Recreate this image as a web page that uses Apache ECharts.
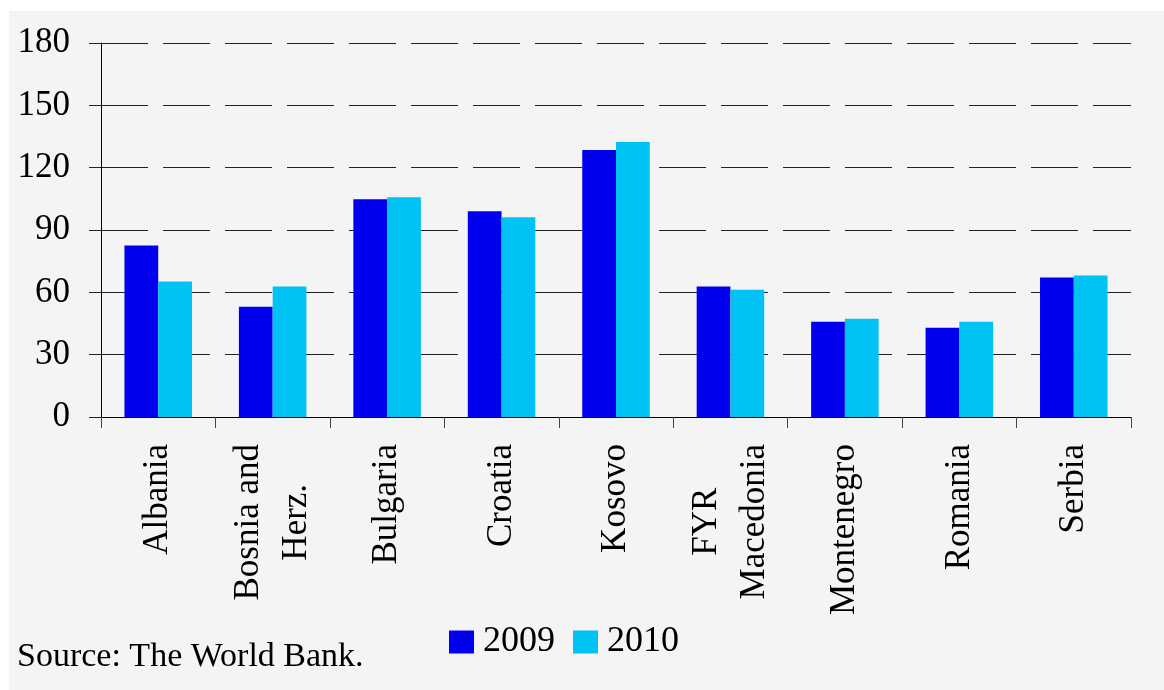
<!DOCTYPE html>
<html>
<head>
<meta charset="utf-8">
<script src="https://cdn.jsdelivr.net/npm/echarts@6/dist/echarts.min.js"></script>
<style>
  html, body { margin: 0; padding: 0; background: #fff; }
  #bg { position: absolute; left: 9px; top: 11px; right: 0; bottom: 0; background: #f4f4f4; }
  #main { position: absolute; left: 0; top: 0; width: 1164px; height: 690px; }
</style>
</head>
<body>
<div id="bg"></div>
<div id="main"></div>
<script>
var countries = ['Albania', 'Bosnia and\nHerz.', 'Bulgaria', 'Croatia', 'Kosovo',
  'FYR\nMacedonia', 'Montenegro', 'Romania', 'Serbia'];
var years = ['2009', '2010'];
var values2009 = [82.6, 53.1, 104.8, 99.0, 128.5, 62.8, 45.9, 43.0, 67.1];
var values2010 = [65.2, 62.8, 105.8, 96.1, 132.3, 61.3, 47.3, 45.9, 68.1];
var yTicks = { min: 0, max: 180, interval: 30 };
var sourceNote = 'Source: The World Bank.';

var font = 'Liberation Serif';

var chart = echarts.init(document.getElementById('main'), null, { renderer: 'canvas' });

// each line of a category name is centred inside its label block
function centreLines(v) {
  return v.split('\n').map(function (s) { return '{c|' + s + '}'; }).join('\n');
}

var option = {
  animation: false,
  textStyle: { fontFamily: font, color: '#000' },
  title: {
    text: sourceNote,
    left: 17,
    top: 640,
    padding: 0,
    textStyle: { fontFamily: font, fontSize: 34, fontWeight: 'normal', color: '#000' }
  },
  legend: {
    data: years,
    left: 449,
    top: 624,
    padding: 0,
    icon: 'rect',
    itemWidth: 25,
    itemHeight: 23,
    itemGap: 18,
    textStyle: { fontFamily: font, fontSize: 36, color: '#000', padding: [0, 0, 0, 4] }
  },
  grid: { left: 101, right: 33, top: 43, bottom: 273, containLabel: false },
  xAxis: {
    type: 'category',
    data: countries,
    boundaryGap: true,
    axisLine: { lineStyle: { color: '#000', width: 1 } },
    axisTick: { show: true, length: 11, interval: 0, lineStyle: { color: '#444' } },
    axisLabel: {
      interval: 0,
      rotate: 90,
      margin: 27,
      fontFamily: font,
      fontSize: 35,
      lineHeight: 48,
      color: '#000',
      formatter: centreLines,
      rich: {
        c: { align: 'center', fontFamily: font, fontSize: 35, lineHeight: 48, color: '#000' }
      }
    }
  },
  yAxis: {
    type: 'value',
    min: yTicks.min,
    max: yTicks.max,
    interval: yTicks.interval,
    axisLine: { show: true, lineStyle: { color: '#000', width: 1 } },
    axisTick: { show: true, length: 12, lineStyle: { color: '#222' } },
    axisLabel: { margin: 31, fontFamily: font, fontSize: 35, color: '#000' },
    splitLine: { show: true, lineStyle: { color: '#222', width: 1, type: [47, 15] } }
  },
  series: [
    {
      name: years[0],
      type: 'bar',
      data: values2009,
      barGap: '0%',
      barCategoryGap: '41%',
      itemStyle: { color: '#0000EE' }
    },
    {
      name: years[1],
      type: 'bar',
      data: values2010,
      barGap: '0%',
      barCategoryGap: '41%',
      itemStyle: { color: '#00C2F4' }
    }
  ]
};

chart.setOption(option);
</script>
</body>
</html>
